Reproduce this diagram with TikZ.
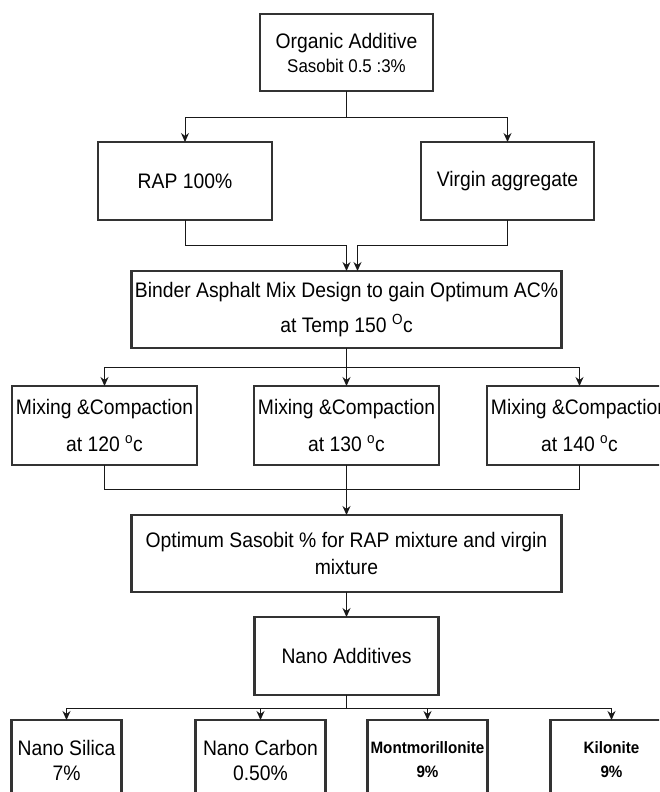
\documentclass[tikz,border=0pt]{standalone}
\usepackage{fontspec}
\setmainfont{Liberation Sans}[FakeStretch=0.92]
\usepackage{tikz}
\usetikzlibrary{arrows.meta,positioning}
\newcommand{\degc}[1]{\textsuperscript{#1}c}
\tikzset{
  stepbox/.style={
    draw=black!80,
    line width=2.2pt,
    rectangle,
    align=center,
    inner sep=0pt,
    outer sep=0pt,
    minimum height=77pt,
    font=\fontsize{21}{25}\selectfont
  },
  smallbox/.style={stepbox,minimum width=173pt},
  widebox/.style={stepbox,minimum width=430pt},
  mixbox/.style={stepbox,minimum width=185pt,minimum height=79pt},
  nanobox/.style={stepbox,minimum height=80pt},
  boldnano/.style={nanobox,font=\fontsize{16.5}{20}\selectfont\bfseries},
  link/.style={line width=1pt,black!90},
  flowarrow/.style={link,-{Stealth[length=9pt,width=8pt]}}
}

\begin{document}
\begin{tikzpicture}[x=1pt,y=1pt]
  \useasboundingbox (0,0) rectangle (659,-792);
  \clip (0,0) rectangle (659,-792);
  \node[smallbox] (org) at (346.5,-52.5) {
    Organic Additive\\[-1pt]
    {\fontsize{18.4}{22}\selectfont Sasobit 0.5 :3\%}
  };
  \node[stepbox,minimum width=174pt,minimum height=78pt,below=51pt of org,xshift=-161.5pt] (rap) {RAP 100\%};
  \node[smallbox,minimum height=78pt,right=149pt of rap] (virgin) {Virgin aggregate};
  \node[widebox,below=180pt of org] (binder) {
    Binder Asphalt Mix Design to gain Optimum AC\%\\[10pt]
    at Temp 150 \degc{O}
  };
  \node[mixbox,below=38pt of binder] (mix130) {Mixing \&Compaction\\[12pt]at 130 \degc{o}};
  \node[mixbox,left=57pt of mix130] (mix120) {Mixing \&Compaction\\[12pt]at 120 \degc{o}};
  \node[mixbox,right=48pt of mix130] (mix140) {Mixing \&Compaction\\[12pt]at 140 \degc{o}};
  \node[widebox,below=50pt of mix130] (opt) {
    Optimum Sasobit \% for RAP mixture and virgin\\[2pt]
    mixture
  };
  \node[stepbox,minimum width=184pt,minimum height=78pt,below=25pt of opt] (nano) {Nano Additives};
  \node[nanobox,minimum width=110pt,below=25pt of nano,xshift=-280pt] (silica) {Nano Silica\\7\%};
  \node[nanobox,minimum width=130pt,right=74pt of silica] (carbon) {Nano Carbon\\0.50\%};
  \node[boldnano,minimum width=120pt,right=42pt of carbon] (mont) {Montmorillonite\\[4pt]9\%};
  \node[boldnano,minimum width=122pt,right=63pt of mont] (kil) {Kilonite\\[4pt]9\%};
  % connectors
  \draw[flowarrow] (org.south) -- ++(0,-26) -| (rap.north);
  \draw[flowarrow] (org.south) -- ++(0,-26) -| (virgin.north);
  \draw[flowarrow] (rap.south) -- ++(0,-25) -| (binder.north);
  \draw[flowarrow] (virgin.south) -- ++(0,-25) -| ([xshift=11pt]binder.north);
  \draw[flowarrow] (binder.south) -- ++(0,-19) -| (mix120.north);
  \draw[flowarrow] (binder.south) -- ++(0,-19) -| (mix140.north);
  \draw[flowarrow] (binder) -- (mix130);
  \draw[link] (mix120.south) -- ++(0,-24) -| (mix140.south);
  \draw[flowarrow] (mix130) -- (opt);
  \draw[flowarrow] (opt) -- (nano);
  \foreach \leaf in {silica,carbon,mont,kil}
    \draw[flowarrow] (nano.south) -- ++(0,-13) -| (\leaf.north);
\end{tikzpicture}
\end{document}
